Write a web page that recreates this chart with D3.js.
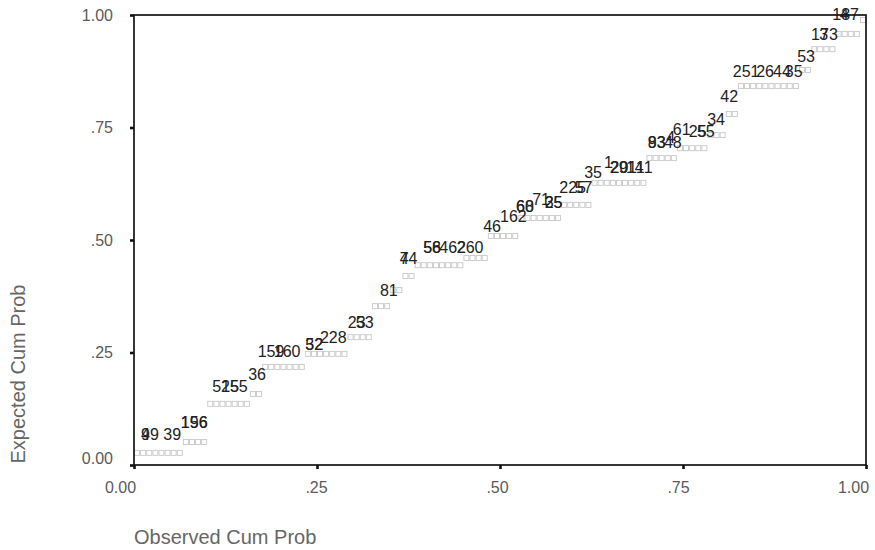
<!DOCTYPE html>
<html>
<head>
<meta charset="utf-8">
<script src="https://cdn.jsdelivr.net/npm/d3@7"></script>
<style>
  html, body { margin: 0; padding: 0; background: #ffffff; }
  svg { display: block; font-family: "Liberation Sans", Arial, sans-serif; }
</style>
</head>
<body>
<svg id="chart" width="875" height="550"></svg>
<script>
// Normal P-P plot: observed vs expected cumulative probability.
// Tied values share one expected probability, so cases sit in horizontal runs.
const tieExpected = [0.027, 0.051, 0.136, 0.158, 0.218, 0.247, 0.284, 0.353, 0.389, 0.420,
                     0.444, 0.460, 0.509, 0.549, 0.578, 0.627, 0.682, 0.704, 0.733, 0.780,
                     0.842, 0.878, 0.924, 0.958, 0.989];
const tieCount    = [8, 4, 7, 2, 7, 7, 4, 3, 2, 2,
                     8, 4, 5, 7, 5, 9, 5, 5, 3, 2,
                     10, 2, 4, 4, 1];

// Case-number labels and where they sit (observed, expected)
const caseLabels = ["49","9","39","156","196","51","25","55","36","159","160","32","52","228",
                    "23","53","81","74","4","58","56","462","260","46","162","68","60","71",
                    "35","25","225","57","35","1","29","20","141","11","93","83","48","4",
                    "61","25","55","34","42","251","26","44","35","53","173","3","187","4"];
const labelObs = [0.0096,0.0096,0.040,0.064,0.064,0.107,0.119,0.131,0.156,0.169,0.191,0.234,0.234,0.254,
                  0.292,0.303,0.336,0.363,0.363,0.395,0.395,0.417,0.441,0.477,0.500,0.522,0.522,0.544,
                  0.561,0.561,0.581,0.602,0.615,0.642,0.650,0.651,0.672,0.675,0.702,0.702,0.724,0.727,
                  0.736,0.758,0.769,0.783,0.801,0.818,0.850,0.873,0.889,0.906,0.925,0.936,0.954,0.964];
const labelExp = [0.056,0.056,0.056,0.082,0.082,0.162,0.162,0.162,0.189,0.240,0.240,0.256,0.256,0.271,
                  0.304,0.304,0.376,0.447,0.447,0.471,0.471,0.471,0.471,0.518,0.540,0.562,0.562,0.578,
                  0.571,0.571,0.604,0.604,0.638,0.660,0.649,0.649,0.649,0.649,0.704,0.704,0.704,0.716,
                  0.733,0.729,0.729,0.756,0.807,0.862,0.862,0.862,0.862,0.896,0.944,0.944,0.989,0.989];

const tickValues = [0, 0.25, 0.5, 0.75, 1];
const tickLabels = ["0.00", ".25", ".50", ".75", "1.00"];
const xTitle = "Observed Cum Prob";
const yTitle = "Expected Cum Prob";

const svg = d3.select("#chart");
const plot = { left: 134, right: 866, top: 15, bottom: 465 };

const x = d3.scaleLinear().domain([0, 1]).range([plot.left, plot.right]);
const y = d3.scaleLinear().domain([0, 1]).range([plot.bottom, plot.top]);

// One point per case: rank-based observed probability, group expected probability
const n = d3.sum(tieCount);
const points = [];
let rank = 0;
tieExpected.forEach((e, g) => {
  for (let k = 0; k < tieCount[g]; k++) {
    rank += 1;
    points.push({ obs: (rank - 0.5) / n, exp: e });
  }
});

// Markers: small hollow squares
const box = 5;
svg.append("g")
  .selectAll("rect")
  .data(points)
  .join("rect")
  .attr("x", d => x(d.obs) - box / 2)
  .attr("y", d => y(d.exp) - box / 2)
  .attr("width", box)
  .attr("height", box)
  .attr("fill", "none")
  .attr("stroke", "#c8c8c8")
  .attr("stroke-width", 0.9);

// Case labels
const labels = caseLabels.map((t, i) => ({ t, obs: labelObs[i], exp: labelExp[i] }));
svg.append("g")
  .selectAll("text")
  .data(labels)
  .join("text")
  .attr("x", d => x(d.obs))
  .attr("y", d => y(d.exp))
  .attr("font-size", 16)
  .attr("fill", "#222")
  .text(d => d.t);

// Axes
const xAxis = d3.axisBottom(x)
  .tickValues(tickValues)
  .tickFormat((d, i) => tickLabels[i])
  .tickSize(4)
  .tickPadding(13);
const yAxis = d3.axisLeft(y)
  .tickValues(tickValues)
  .tickFormat((d, i) => tickLabels[i])
  .tickSize(4)
  .tickPadding(17);

const gx = svg.append("g").attr("transform", `translate(0,${plot.bottom})`).call(xAxis);
const gy = svg.append("g").attr("transform", `translate(${plot.left},0)`).call(yAxis);

[gx, gy].forEach(g => {
  g.select(".domain").remove();
  g.selectAll(".tick line").attr("stroke", "#111").attr("stroke-width", 2.6);
  g.selectAll(".tick text")
    .attr("font-size", 16)
    .attr("font-family", "Liberation Sans, Arial, sans-serif")
    .attr("fill", "#5a5a5a");
});
const xShift = [-14, -1, -3, -5, -13];
gx.selectAll(".tick text").attr("dx", (d, i) => xShift[i]);
gy.selectAll(".tick text").attr("dy", (d, i) => i === 0 ? "-0.1em" : "0.32em");

// Plot frame
svg.append("rect")
  .attr("x", plot.left)
  .attr("y", plot.top)
  .attr("width", plot.right - plot.left)
  .attr("height", plot.bottom - plot.top)
  .attr("fill", "none")
  .attr("stroke", "#151515")
  .attr("stroke-width", 1.7);

// Axis titles
svg.append("text")
  .attr("x", plot.left)
  .attr("y", 544)
  .attr("font-size", 20)
  .attr("fill", "#666")
  .text(xTitle);

svg.append("text")
  .attr("transform", "translate(25,374) rotate(-90)")
  .attr("text-anchor", "middle")
  .attr("font-size", 20)
  .attr("fill", "#666")
  .text(yTitle);
</script>
</body>
</html>
